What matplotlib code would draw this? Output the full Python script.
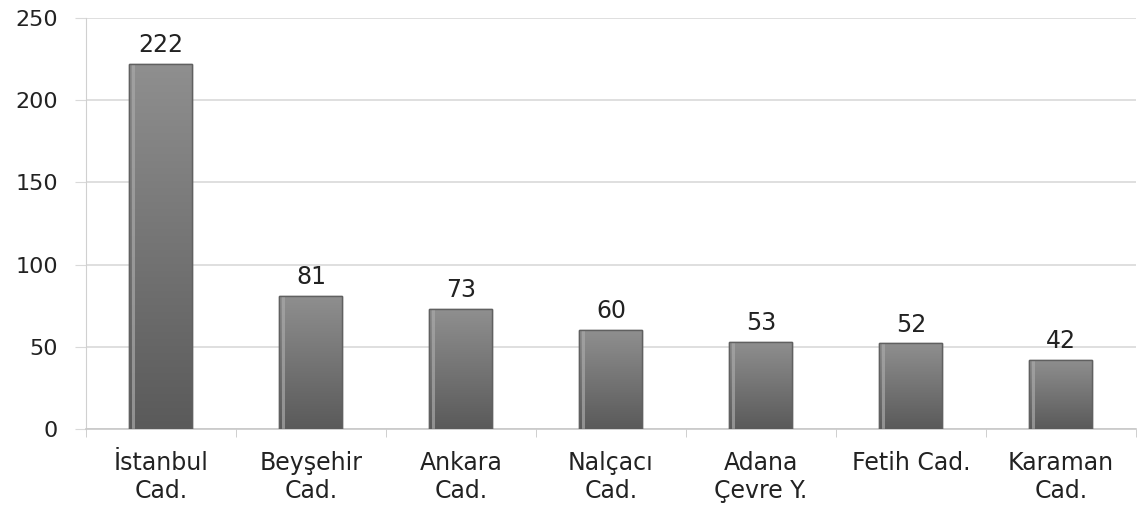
import numpy as np
import matplotlib.pyplot as plt
from matplotlib.patches import Rectangle
from matplotlib.colors import LinearSegmentedColormap

# Street names and counts
categories = ['İstanbul\nCad.', 'Beyşehir\nCad.', 'Ankara\nCad.', 'Nalçacı\nCad.',
              'Adana\nÇevre Y.', 'Fetih Cad.', 'Karaman\nCad.']
values = [222, 81, 73, 60, 53, 52, 42]
y_ticks = [0, 50, 100, 150, 200, 250]

plt.rcParams['font.family'] = ['DejaVu Sans']

fig = plt.figure(figsize=(11.37, 5.07), dpi=100)
ax = fig.add_axes([0.0756, 0.154, 0.9235, 0.8105])

x = np.arange(len(categories))
width = 0.42
bars = ax.bar(x, values, width=width, color='#777777', edgecolor='#6a6a6a',
              linewidth=1.0, zorder=3)

# vertical gradient on every bar, darker at the bottom, lighter at the top
bar_cmap = LinearSegmentedColormap.from_list('bar', ['#5a5a5a', '#8f8f8f'])
grad = np.linspace(0, 1, 256).reshape(-1, 1)
for b in bars:
    x0, y0 = b.get_x(), b.get_y()
    w, h = b.get_width(), b.get_height()
    im = ax.imshow(grad, cmap=bar_cmap, vmin=0, vmax=1, origin='lower',
                   extent=[x0, x0 + w, y0, y0 + h], aspect='auto', zorder=3.5,
                   interpolation='bilinear')
    im.set_clip_path(b)
    # thin highlight on the left edge
    ax.add_patch(Rectangle((x0 + w * 0.04, y0), w * 0.05, h, facecolor='#a8a8a8',
                           edgecolor='none', alpha=0.7, zorder=3.7))
    ax.add_patch(Rectangle((x0, y0), w, h, facecolor='none', edgecolor='#606060',
                           linewidth=1.0, zorder=3.8))

for xi, v in zip(x, values):
    ax.annotate(str(v), (xi, v), xytext=(0, 5), textcoords='offset points',
                ha='center', va='bottom', fontsize=17, color='#222222', zorder=5)

ax.set_xlim(-0.5, len(categories) - 0.5)
ax.set_ylim(0, 250)
ax.set_yticks(y_ticks)
ax.set_yticklabels([str(t) for t in y_ticks], fontsize=16, color='#222222')
ax.yaxis.grid(True, color='#d9d9d9', linewidth=1.2, zorder=0)
ax.tick_params(axis='y', length=8, color='#d9d9d9', pad=12)

ax.set_xticks(x)
ax.set_xticklabels(categories, fontsize=17, color='#222222', linespacing=1.2)
ax.tick_params(axis='x', length=0, pad=16)
ax.set_xticks(np.arange(len(categories) + 1) - 0.5, minor=True)
ax.tick_params(axis='x', which='minor', length=6, color='#c8c8c8')

for side in ['top', 'right']:
    ax.spines[side].set_visible(False)
ax.spines['left'].set_color('#d0d0d0')
ax.spines['bottom'].set_color('#c8c8c8')
ax.spines['bottom'].set_linewidth(1.2)

fig.savefig('out.png', dpi=100)
